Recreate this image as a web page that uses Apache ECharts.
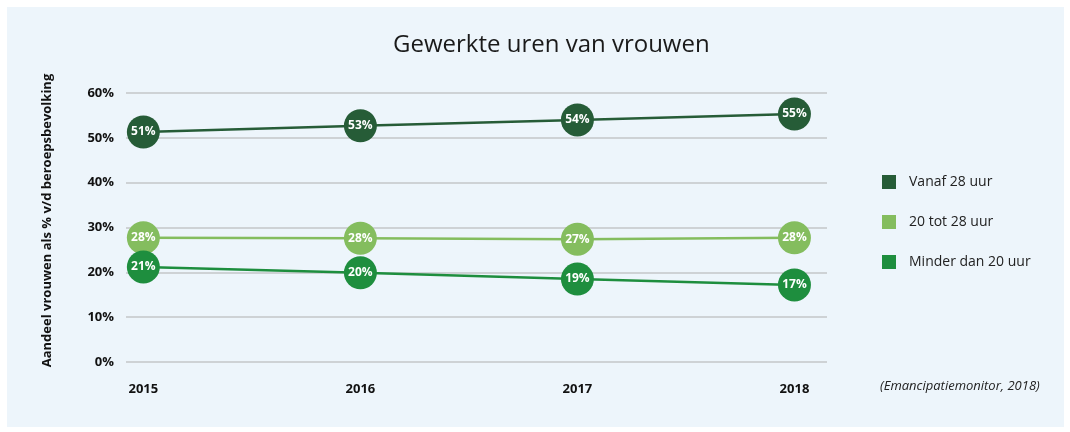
<!DOCTYPE html>
<html>
<head>
<meta charset="utf-8">
<script src="https://cdn.jsdelivr.net/npm/echarts@6/dist/echarts.min.js"></script>
<style>
  html, body { margin: 0; padding: 0; background: #fff; }
  #chart { width: 1070px; height: 432px; }
</style>
</head>
<body>
<div id="chart"></div>
<script>
// jaren en percentages
var years = [2015, 2016, 2017, 2018];
var vanaf28 = [51.3, 52.7, 54.0, 55.3];
var tussen20en28 = [27.7, 27.6, 27.4, 27.7];
var minder20 = [21.2, 19.9, 18.5, 17.2];
var seriesNames = ['Vanaf 28 uur', '20 tot 28 uur', 'Minder dan 20 uur'];
var colors = ['#265c37', '#84bd5e', '#1e8e3e'];

var chart = echarts.init(document.getElementById('chart'));

function pairs(vals) {
    return years.map(function (y, i) { return [y, vals[i]]; });
}

function lineSeries(name, vals, color) {
    return {
        name: name,
        type: 'line',
        data: pairs(vals),
        symbol: 'circle',
        symbolSize: 33,
        lineStyle: { color: color, width: 2.5 },
        itemStyle: { color: color },
        label: {
            show: true,
            position: 'inside',
            color: '#fff',
            fontFamily: 'Open Sans',
            fontWeight: 'bold',
            fontSize: 12,
            formatter: function (p) { return Math.round(p.value[1]) + '%'; }
        },
        emphasis: { disabled: true },
        animation: false
    };
}

var option = {
    backgroundColor: '#ffffff',
    title: {
        text: 'Gewerkte uren van vrouwen',
        left: 388,
        top: 28,
        textStyle: { fontFamily: 'Open Sans', fontWeight: 'normal', fontSize: 24, color: '#1a1a1a' }
    },
    graphic: [
        { type: 'rect', left: 7, top: 7, z: -10, shape: { width: 1057, height: 420 }, style: { fill: '#edf5fb' } },
        { type: 'text', left: 880, top: 380, style: { text: '(Emancipatiemonitor, 2018)', font: 'italic 13px "Open Sans"', fill: '#222' } }
    ],
    legend: {
        orient: 'vertical',
        left: 877,
        top: 170,
        itemGap: 26,
        itemWidth: 14,
        itemHeight: 14,
        icon: 'rect',
        data: seriesNames,
        textStyle: { fontFamily: 'Open Sans', fontSize: 14, color: '#222', padding: [0, 0, 0, 8] }
    },
    grid: { left: 126, right: 243, top: 93, bottom: 70, containLabel: false },
    xAxis: {
        type: 'value',
        min: 2014.92,
        max: 2018.15,
        axisLine: { show: false },
        axisTick: { show: false },
        splitLine: { show: false },
        axisLabel: {
            margin: 21,
            fontFamily: 'Open Sans',
            fontWeight: 'bold',
            fontSize: 13,
            color: '#111',
            showMinLabel: false,
            showMaxLabel: false,
            formatter: function (v) { return Math.abs(v - Math.round(v)) < 1e-6 ? String(Math.round(v)) : ''; }
        }
    },
    yAxis: {
        type: 'value',
        min: 0,
        max: 60,
        interval: 10,
        name: 'Aandeel vrouwen als % v/d beroepsbevolking',
        nameLocation: 'middle',
        nameGap: 72,
        nameTextStyle: { fontFamily: 'Open Sans', fontWeight: 'bold', fontSize: 13, color: '#111', padding: [0, 0, 0, 14] },
        axisLine: { show: false },
        axisTick: { show: false },
        splitLine: { lineStyle: { color: '#c3c6c9', width: 1.5 } },
        axisLabel: {
            margin: 12,
            fontFamily: 'Open Sans',
            fontWeight: 'bold',
            fontSize: 13,
            color: '#111',
            formatter: '{value}%'
        }
    },
    series: [
        lineSeries(seriesNames[0], vanaf28, colors[0]),
        lineSeries(seriesNames[1], tussen20en28, colors[1]),
        lineSeries(seriesNames[2], minder20, colors[2])
    ]
};

chart.setOption(option);
</script>
</body>
</html>
